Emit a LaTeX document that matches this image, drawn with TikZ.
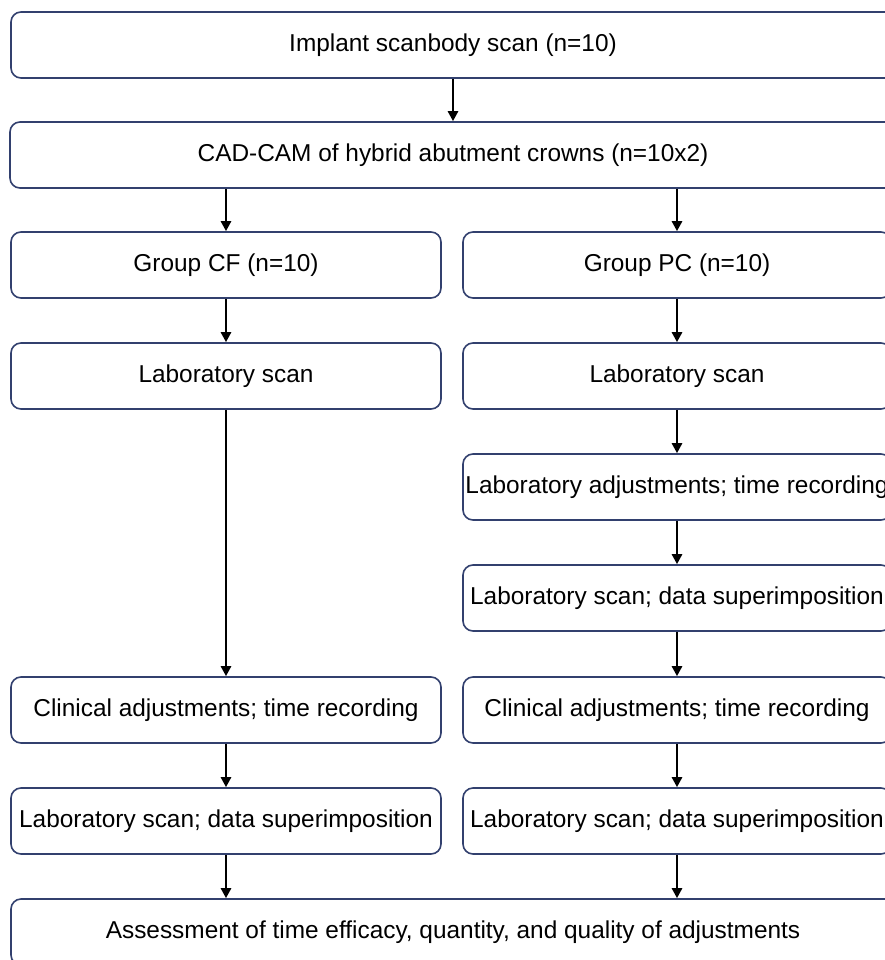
\documentclass[tikz,border=0pt]{standalone}
\usepackage{fontspec}
\setmainfont{Liberation Sans}
\usetikzlibrary{arrows.meta}
\definecolor{boxc}{RGB}{50,64,110}
\begin{document}
\begin{tikzpicture}[x=1pt,y=-1pt,
  box/.style={draw=boxc, line width=1.6pt, rounded corners=10pt, inner sep=0pt,
    minimum height=66pt, font=\fontsize{24.4}{29}\selectfont, text=black},
  arr/.style={line width=2.8pt, -{Triangle[length=10pt,width=10pt]}}]
\useasboundingbox (0,0) rectangle (885,960);
\clip (0,0) rectangle (885,960);
\node[box, minimum width=884pt] (b1) at (453,45) {Implant scanbody scan (n=10)};
\node[box, minimum width=886pt] (b2) at (453,155) {CAD-CAM of hybrid abutment crowns (n=10x2)};
\node[box, minimum width=430pt] (cf) at (226,265) {Group CF (n=10)};
\node[box, minimum width=428pt] (pc) at (677,265) {Group PC (n=10)};
\node[box, minimum width=430pt] (lsl) at (226,376) {Laboratory scan};
\node[box, minimum width=428pt] (lsr) at (677,376) {Laboratory scan};
\node[box, minimum width=428pt] (lar) at (677,487) {Laboratory adjustments; time recording};
\node[box, minimum width=428pt] (lsr2) at (677,598) {Laboratory scan; data superimposition};
\node[box, minimum width=430pt] (cal) at (226,710) {Clinical adjustments; time recording};
\node[box, minimum width=428pt] (car) at (677,710) {Clinical adjustments; time recording};
\node[box, minimum width=430pt] (lsl3) at (226,821) {Laboratory scan; data superimposition};
\node[box, minimum width=428pt] (lsr3) at (677,821) {Laboratory scan; data superimposition};
\node[box, minimum width=884pt] (as) at (453,932) {Assessment of time efficacy, quantity, and quality of adjustments};
\draw[arr] (b1.south) -- (b2.north);
\draw[arr] (b2.south -| cf.north) -- (cf.north);
\draw[arr] (b2.south -| pc.north) -- (pc.north);
\draw[arr] (cf) -- (lsl);
\draw[arr] (pc) -- (lsr);
\draw[arr] (lsl) -- (cal);
\draw[arr] (lsr) -- (lar);
\draw[arr] (lar) -- (lsr2);
\draw[arr] (lsr2) -- (car);
\draw[arr] (cal) -- (lsl3);
\draw[arr] (car) -- (lsr3);
\draw[arr] (lsl3.south) -- (lsl3.south |- as.north);
\draw[arr] (lsr3.south) -- (lsr3.south |- as.north);
\end{tikzpicture}
\end{document}
